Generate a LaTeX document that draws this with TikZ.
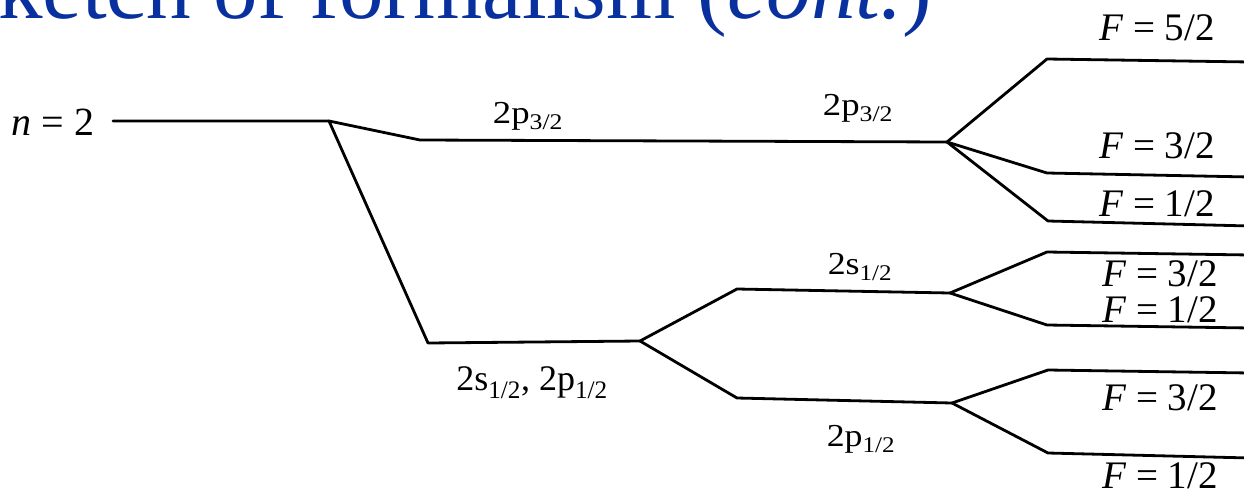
\documentclass[tikz,border=0pt]{standalone}
\usepackage{fontspec}
\setmainfont{Liberation Serif}
\definecolor{titleblue}{RGB}{8,48,158}
\begin{document}
\begin{tikzpicture}[x=1pt,y=-1pt,
  lvl/.style={line width=2.8pt, line join=round, line cap=round},
  flab/.style={font=\fontsize{39}{39}\selectfont, anchor=base, inner sep=0pt},
  slab/.style={font=\fontsize{32}{32}\selectfont, anchor=base, inner sep=0pt},
  blab/.style={font=\fontsize{36}{36}\selectfont, anchor=base, inner sep=0pt}]
\useasboundingbox (0,0) rectangle (1244,498);
\clip (0,0) rectangle (1244,498);
% title (cut off at top)
\node[anchor=base west, inner sep=0pt, text=titleblue, font=\fontsize{89}{89}\selectfont] (title) at (-2,18) {ketch of formalism (\textit{cont.})};
% level coordinates
\coordinate (n2a) at (113,121);
\coordinate (n2b) at (329,121);
\coordinate (p3a) at (420,140);
\coordinate (p3b) at (947,142);
\coordinate (spa) at (428,343);
\coordinate (spb) at (640,341);
\coordinate (s1a) at (737,289);
\coordinate (s1b) at (950,293);
\coordinate (p1a) at (737,398);
\coordinate (p1b) at (952,403);
\coordinate (f52a) at (1047,59);
\coordinate (f52b) at (1250,62);
\coordinate (f32a) at (1047,173);
\coordinate (f32b) at (1250,177);
\coordinate (f12a) at (1048,221);
\coordinate (f12b) at (1250,226);
\coordinate (s32a) at (1047,252);
\coordinate (s32b) at (1250,255);
\coordinate (s12a) at (1047,325);
\coordinate (s12b) at (1250,328);
\coordinate (p32a) at (1048,370);
\coordinate (p32b) at (1250,373);
\coordinate (p12a) at (1048,453);
\coordinate (p12b) at (1250,458);
% levels
\draw[lvl] (n2a) -- (n2b) -- (p3a) -- (p3b);
\draw[lvl] (n2b) -- (spa) -- (spb);
\draw[lvl] (spb) -- (s1a) -- (s1b);
\draw[lvl] (spb) -- (p1a) -- (p1b);
\draw[lvl] (p3b) -- (f52a) -- (f52b);
\draw[lvl] (p3b) -- (f32a) -- (f32b);
\draw[lvl] (p3b) -- (f12a) -- (f12b);
\draw[lvl] (s1b) -- (s32a) -- (s32b);
\draw[lvl] (s1b) -- (s12a) -- (s12b);
\draw[lvl] (p1b) -- (p32a) -- (p32b);
\draw[lvl] (p1b) -- (p12a) -- (p12b);
% labels
\node[font=\fontsize{40}{40}\selectfont, anchor=base, inner sep=0pt] (ln2) at (53,135) {\textit{n} = 2};
\node[slab] (lp3l) at (528,123) {\scalebox{1.15}[1]{2p\textsubscript{3/2}}};
\node[slab] (lp3r) at (858,115) {\scalebox{1.15}[1]{2p\textsubscript{3/2}}};
\node[slab] (ls1) at (860,274) {\scalebox{1.12}[1]{2s\textsubscript{1/2}}};
\node[slab] (lp1) at (861,446) {\scalebox{1.12}[1]{2p\textsubscript{1/2}}};
\node[blab] (lsp) at (532,390) {2s\textsubscript{1/2}, 2p\textsubscript{1/2}};
\node[flab] (lf52) at (1157,40) {\textit{F} = 5/2};
\node[flab] (lf32) at (1157,158) {\textit{F} = 3/2};
\node[flab] (lf12) at (1157,216) {\textit{F} = 1/2};
\node[flab] (ls32) at (1160,286) {\textit{F} = 3/2};
\node[flab] (ls12) at (1160,322) {\textit{F} = 1/2};
\node[flab] (lp32) at (1160,410) {\textit{F} = 3/2};
\node[flab] (lp12) at (1160,488) {\textit{F} = 1/2};
\end{tikzpicture}
\end{document}
